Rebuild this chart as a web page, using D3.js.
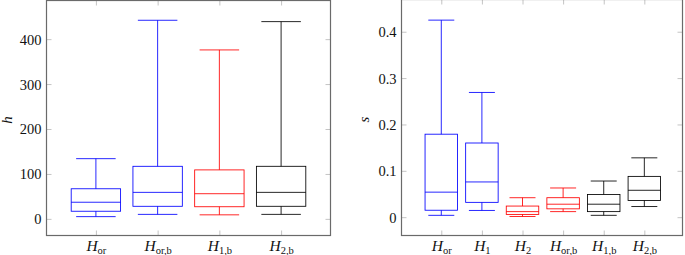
<!DOCTYPE html>
<html><head><meta charset="utf-8">
<script src="https://cdn.jsdelivr.net/npm/d3@7"></script>
<style>
body{margin:0;background:#fff;}
svg{display:block;}
svg text, svg tspan{font-family:"Liberation Serif" !important;}
</style></head>
<body><svg id="c" width="685" height="255" font-family="Liberation Serif"></svg>
<script>
// ---- Left panel (h) ----
const leftCats = ["or", "or,b", "1,b", "2,b"];
const leftLower  = [5, 10, 9, 10];
const leftQ1     = [17, 28, 27, 28];
const leftMedian = [37, 59, 56, 59];
const leftQ3     = [67, 117, 109, 117];
const leftUpper  = [134, 442, 376, 439];
const leftYTicks = [0, 100, 200, 300, 400];

// ---- Right panel (s) ----
const rightCats = ["or", "1", "2", "or,b", "1,b", "2,b"];
const rightLower  = [0.004, 0.0145, 0.0015, 0.012, 0.004, 0.023];
const rightQ1     = [0.015, 0.032, 0.006, 0.018, 0.012, 0.036];
const rightMedian = [0.054, 0.076, 0.012, 0.028, 0.028, 0.058];
const rightQ3     = [0.179, 0.160, 0.024, 0.042, 0.049, 0.088];
const rightUpper  = [0.425, 0.269, 0.042, 0.063, 0.078, 0.128];
const rightYTicks = [0, 0.1, 0.2, 0.3, 0.4];

const leftColors  = ["#0000ff", "#0000ff", "#ff0000", "#000000"];
const rightColors = ["#0000ff", "#0000ff", "#ff0000", "#ff0000", "#000000", "#000000"];

const svg = d3.select("#c");

function addText(sel) {
  return sel.append("text").attr("font-family", "Liberation Serif")
    .style("font-family", '"Liberation Serif"').attr("fill", "#111");
}

function panel(cfg) {
  const g = svg.append("g").attr("font-family", "Liberation Serif");
  const x = d3.scaleLinear().domain(cfg.xDomain).range([cfg.x0, cfg.x1]);
  const y = d3.scaleLinear().domain(cfg.yDomain).range([cfg.y1, cfg.y0]);
  const pos = cfg.cats.map((d, i) => i + 1);

  function clean(ax) {
    ax.attr("font-family", "Liberation Serif");
    ax.select(".domain").remove();
    ax.selectAll("line").attr("stroke", "#c4c4c4");
    ax.selectAll("text").remove();
    return ax;
  }

  const ya = clean(g.append("g").attr("transform", `translate(${cfg.x0},0)`)
    .call(d3.axisLeft(y).tickValues(cfg.yTicks).tickSize(-5).tickFormat("")));
  ya.selectAll(".tick").each(function (d) {
    addText(d3.select(this)).attr("x", -5).attr("dy", "0.34em")
      .attr("text-anchor", "end").attr("font-size", 14.5).text(cfg.yFmt(d));
  });

  clean(g.append("g").attr("transform", `translate(${cfg.x1},0)`)
    .call(d3.axisRight(y).tickValues(cfg.yTicks).tickSize(-5).tickFormat("")));

  const xa = clean(g.append("g").attr("transform", `translate(0,${cfg.y1})`)
    .call(d3.axisBottom(x).tickValues(pos).tickSize(-5).tickFormat("")));
  xa.selectAll(".tick").each(function (d) {
    const t = addText(d3.select(this)).attr("y", 15.5).attr("text-anchor", "middle");
    t.append("tspan").attr("font-style", "italic").attr("font-size", 15.5).text("H");
    t.append("tspan").attr("font-size", 10.5).attr("dy", 2.5).text(cfg.cats[d - 1]);
  });

  clean(g.append("g").attr("transform", `translate(0,${cfg.y0})`)
    .call(d3.axisTop(x).tickValues(pos).tickSize(-5).tickFormat("")));

  g.append("rect").attr("x", cfg.x0).attr("y", cfg.y0)
    .attr("width", cfg.x1 - cfg.x0).attr("height", cfg.y1 - cfg.y0)
    .attr("fill", "none").attr("stroke", "#6a6a6a").attr("stroke-width", 1.2);

  const bw = 0.8, ww = 0.64;
  pos.forEach((p, i) => {
    const c = cfg.colors[i];
    const bg = g.append("g").attr("stroke", c).attr("stroke-width", 0.85).attr("fill", "none");
    bg.append("line").attr("x1", x(p)).attr("x2", x(p)).attr("y1", y(cfg.upper[i])).attr("y2", y(cfg.q3[i]));
    bg.append("line").attr("x1", x(p)).attr("x2", x(p)).attr("y1", y(cfg.q1[i])).attr("y2", y(cfg.lower[i]));
    bg.append("line").attr("x1", x(p - ww / 2)).attr("x2", x(p + ww / 2)).attr("y1", y(cfg.upper[i])).attr("y2", y(cfg.upper[i]));
    bg.append("line").attr("x1", x(p - ww / 2)).attr("x2", x(p + ww / 2)).attr("y1", y(cfg.lower[i])).attr("y2", y(cfg.lower[i]));
    bg.append("rect").attr("x", x(p - bw / 2)).attr("width", x(p + bw / 2) - x(p - bw / 2))
      .attr("y", y(cfg.q3[i])).attr("height", y(cfg.q1[i]) - y(cfg.q3[i]));
    bg.append("line").attr("x1", x(p - bw / 2)).attr("x2", x(p + bw / 2)).attr("y1", y(cfg.median[i])).attr("y2", y(cfg.median[i]));
  });

  addText(g).attr("transform", `translate(${cfg.labelX},${(cfg.y0 + cfg.y1) / 2 + 2}) rotate(-90)`)
    .attr("text-anchor", "middle").attr("font-style", "italic").attr("font-size", 15)
    .text(cfg.ylabel);
}

panel({
  cats: leftCats, lower: leftLower, q1: leftQ1, median: leftMedian, q3: leftQ3, upper: leftUpper,
  colors: leftColors, yTicks: leftYTicks, yFmt: d3.format("d"),
  xDomain: [0.2, 4.8], yDomain: [-37, 486],
  x0: 46.5, x1: 330.5, y0: 0.5, y1: 235.5, labelX: 12, ylabel: "h"
});
panel({
  cats: rightCats, lower: rightLower, q1: rightQ1, median: rightMedian, q3: rightQ3, upper: rightUpper,
  colors: rightColors, yTicks: rightYTicks, yFmt: d => d === 0 ? "0" : d3.format(".1f")(d),
  xDomain: [0.02, 6.94], yDomain: [-0.0395, 0.4695],
  x0: 401.5, x1: 682.5, y0: -0.5, y1: 235.5, labelX: 369, ylabel: "s"
});
</script></body></html>
